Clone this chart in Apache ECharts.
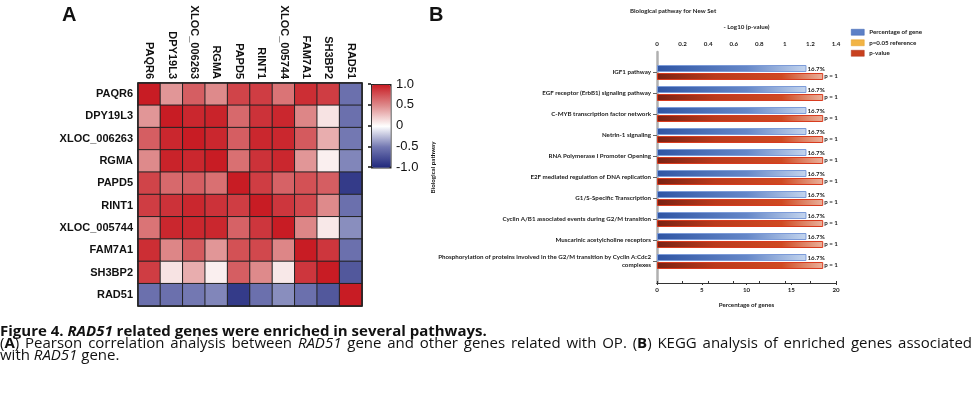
<!DOCTYPE html>
<html>
<head>
<meta charset="utf-8">
<script src="https://cdn.jsdelivr.net/npm/echarts@6/dist/echarts.min.js"></script>
<style>
  html, body { margin: 0; padding: 0; background: #fff; }
  #chart { width: 974px; height: 396px; }
</style>
</head>
<body>
<div id="chart"></div>
<script>
// 热图基因
const genes = ['PAQR6', 'DPY19L3', 'XLOC_006263', 'RGMA', 'PAPD5', 'RINT1', 'XLOC_005744', 'FAM7A1', 'SH3BP2', 'RAD51'];

// Pearson 相关矩阵 (从图中估计)
const corr = [
    [1.00, 0.45, 0.70, 0.50, 0.82, 0.85, 0.60, 0.92, 0.85, -0.55],
    [0.45, 1.00, 0.95, 0.97, 0.65, 0.90, 0.95, 0.52, 0.12, -0.55],
    [0.70, 0.95, 1.00, 0.95, 0.70, 0.95, 0.95, 0.72, 0.35, -0.50],
    [0.50, 0.97, 0.95, 1.00, 0.62, 0.90, 0.95, 0.45, 0.07, -0.45],
    [0.82, 0.65, 0.70, 0.62, 1.00, 0.85, 0.68, 0.76, 0.70, -0.88],
    [0.85, 0.90, 0.95, 0.90, 0.85, 1.00, 0.88, 0.80, 0.50, -0.55],
    [0.60, 0.95, 0.95, 0.95, 0.68, 0.88, 1.00, 0.52, 0.10, -0.42],
    [0.92, 0.52, 0.72, 0.45, 0.76, 0.80, 0.52, 1.00, 0.88, -0.55],
    [0.85, 0.12, 0.35, 0.07, 0.70, 0.50, 0.10, 0.88, 1.00, -0.70],
    [-0.55, -0.55, -0.50, -0.45, -0.88, -0.55, -0.42, -0.55, -0.70, 1.00]
];

// KEGG 通路
const pathways = [
    'IGF1 pathway',
    'EGF receptor (ErbB1) signaling pathway',
    'C-MYB transcription factor network',
    'Netrin-1 signaling',
    'RNA Polymerase I Promoter Opening',
    'E2F mediated regulation of DNA replication',
    'G1/S-Specific Transcription',
    'Cyclin A/B1 associated events during G2/M transition',
    'Muscarinic acetylcholine receptors',
    'Phosphorylation of proteins involved in the G2/M transition by Cyclin A:Cdc2\ncomplexes'
];
const pctGenes = [16.7, 16.7, 16.7, 16.7, 16.7, 16.7, 16.7, 16.7, 16.7, 16.7];
const negLogP = [1.3, 1.3, 1.3, 1.3, 1.3, 1.3, 1.3, 1.3, 1.3, 1.3];
const pLabels = ['p = 1', 'p = 1', 'p = 1', 'p = 1', 'p = 1', 'p = 1', 'p = 1', 'p = 1', 'p = 1', 'p = 1'];

// 图注第二行: [文字, 样式]，两端对齐到整行宽度
const captionLine2 = [
    ['(', 'n'], ['A', 'b'], [')', 'n'], [' Pearson correlation analysis between ', 'n'], ['RAD51', 'i'],
    [' gene and other genes related with OP. (', 'n'], ['B', 'b'], [') KEGG analysis of enriched genes associated', 'n']
];

const chart = echarts.init(document.getElementById('chart'));

const heatData = [];
corr.forEach((row, i) => row.forEach((v, j) => heatData.push([j, i, v])));

const smallFont = { fontSize: 6.2, fontWeight: 'bold', color: '#1a1a1a', fontFamily: 'Lato' };
const capFont = '"Open Sans", sans-serif';
const capSize = 15;

// 计算两端对齐时的空格宽度
const ctx = document.createElement('canvas').getContext('2d');
const fontOf = s => (s === 'b' ? 'bold ' : s === 'i' ? 'italic ' : '') + capSize + 'px ' + capFont;
let textW = 0, spaces = 0;
const tokens = [];
captionLine2.forEach(([t, s]) => {
    t.split(/( )/).forEach(part => {
        if (part === '') return;
        if (part === ' ') { spaces++; tokens.push('{sp| }'); return; }
        ctx.font = fontOf(s);
        textW += ctx.measureText(part).width;
        tokens.push('{' + s + '|' + part + '}');
    });
});
const spaceW = Math.max(3, (972 - textW) / spaces);

const capRich = {
    n: { fontSize: capSize, fontFamily: capFont, fill: '#111', lineHeight: 12 },
    b: { fontSize: capSize, fontWeight: 'bold', fontFamily: capFont, fill: '#111', lineHeight: 12 },
    i: { fontSize: capSize, fontStyle: 'italic', fontFamily: capFont, fill: '#111', lineHeight: 12 },
    bi: { fontSize: capSize, fontWeight: 'bold', fontStyle: 'italic', fontFamily: capFont, fill: '#111', lineHeight: 12 },
    sp: { fontSize: capSize, fontFamily: capFont, width: spaceW, lineHeight: 12 }
};

chart.setOption({
    backgroundColor: '#fff',
    animation: false,
    textStyle: { fontFamily: 'Liberation Sans, Arial, sans-serif' },
    grid: [
        { left: 138, top: 83, width: 224, height: 223, show: true, borderColor: '#222', borderWidth: 1.5, backgroundColor: 'transparent', z: 3 },
        { left: 371, top: 84, width: 19, height: 83 },
        { left: 657, top: 52, width: 179, height: 231 },
        { left: 657, top: 62, width: 179, height: 210 }
    ],
    xAxis: [
        {
            gridIndex: 0, type: 'category', data: genes, position: 'top',
            axisLine: { show: false }, axisTick: { show: false }, splitLine: { show: false },
            axisLabel: { rotate: 90, fontSize: 11, fontWeight: 'bold', color: '#111', margin: 4 }
        },
        { gridIndex: 1, type: 'value', show: false },
        {
            gridIndex: 2, type: 'value', position: 'top', min: 0, max: 1.4, interval: 0.2,
            name: '- Log10 (p-value)', nameLocation: 'middle', nameGap: 22, nameTextStyle: smallFont,
            axisLine: { lineStyle: { color: '#333', width: 1 } },
            axisTick: { length: 2, lineStyle: { color: '#333' } },
            splitLine: { show: false },
            axisLabel: Object.assign({ margin: 5, formatter: v => String(+v.toFixed(1)) }, smallFont)
        },
        {
            gridIndex: 2, type: 'value', position: 'bottom', min: 0, max: 20, interval: 5,
            name: 'Percentage of genes', nameLocation: 'middle', nameGap: 19, nameTextStyle: smallFont,
            axisLine: { lineStyle: { color: '#333', width: 1 } },
            axisTick: { length: 2, lineStyle: { color: '#333' } },
            splitLine: { show: false },
            axisLabel: Object.assign({ margin: 4 }, smallFont)
        },
        { gridIndex: 3, type: 'value', min: 0, max: 1.4, show: false },
        { gridIndex: 3, type: 'value', min: 0, max: 20, show: false }
    ],
    yAxis: [
        {
            gridIndex: 0, type: 'category', data: genes, inverse: true,
            axisLine: { show: false }, axisTick: { show: false }, splitLine: { show: false },
            axisLabel: { fontSize: 11, fontWeight: 'bold', color: '#111', margin: 5 }
        },
        {
            gridIndex: 1, type: 'value', position: 'right', min: -1, max: 1, interval: 0.5,
            axisLine: { show: false }, splitLine: { show: false },
            axisTick: { show: true, inside: true, length: 3, lineStyle: { color: '#111', width: 1.5 } },
            axisLabel: { fontSize: 13, color: '#111', margin: 6, formatter: v => v === 0 ? '0' : v.toFixed(1) }
        },
        {
            gridIndex: 2, type: 'value', min: 0, max: 1,
            name: 'Biological pathway', nameLocation: 'middle', nameGap: 221, nameTextStyle: smallFont,
            axisLine: { show: true, lineStyle: { color: '#b0b0b0', width: 2.5 } },
            axisTick: { show: false }, axisLabel: { show: false }, splitLine: { show: false }
        },
        {
            gridIndex: 3, type: 'category', data: pathways, inverse: true,
            axisLine: { show: false },
            axisTick: { show: true, alignWithLabel: true, length: 4, lineStyle: { color: '#666' } },
            axisLabel: Object.assign({ margin: 6, lineHeight: 8 }, smallFont)
        }
    ],
    visualMap: {
        type: 'continuous', min: -1, max: 1, seriesIndex: 0,
        left: 371, top: 84, itemWidth: 19, itemHeight: 83, padding: 0,
        calculable: false, hoverLink: false, text: null, showLabel: false,
        borderColor: '#222', borderWidth: 1.5,
        inRange: { color: ['#20287c', '#7378b2', '#ffffff', '#de8a8b', '#c81c24'] }
    },
    legend: {
        orient: 'vertical', left: 846, top: 24, itemWidth: 13, itemHeight: 6, itemGap: 4,
        icon: 'rect', textStyle: smallFont,
        data: [
            { name: 'Percentage of gene', itemStyle: { color: '#5d80c6', borderColor: '#3d62b0', borderWidth: 0.5 } },
            { name: 'p=0.05 reference', itemStyle: { color: '#f2b445', borderColor: '#e09a20', borderWidth: 0.5 } },
            { name: 'p-value', itemStyle: { color: '#c8401e', borderColor: '#a83018', borderWidth: 0.5 } }
        ]
    },
    series: [
        {
            type: 'heatmap', xAxisIndex: 0, yAxisIndex: 0, data: heatData,
            itemStyle: { borderColor: '#222', borderWidth: 1 },
            emphasis: { disabled: true }
        },
        {
            name: 'Percentage of gene', type: 'bar', xAxisIndex: 5, yAxisIndex: 3, data: pctGenes,
            barWidth: 7, barGap: '14%',
            itemStyle: {
                borderColor: '#7c9bd8', borderWidth: 1,
                color: new echarts.graphic.LinearGradient(0, 0, 1, 0, [
                    { offset: 0, color: '#2f55a4' },
                    { offset: 0.6, color: '#6587c8' },
                    { offset: 1, color: '#c4d5ee' }
                ])
            },
            label: Object.assign({ show: true, position: 'right', distance: 1, formatter: p => p.value + '%' }, smallFont)
        },
        {
            name: 'p-value', type: 'bar', xAxisIndex: 4, yAxisIndex: 3, data: negLogP,
            barWidth: 7,
            itemStyle: {
                borderColor: '#d83a1e', borderWidth: 1,
                color: new echarts.graphic.LinearGradient(0, 0, 1, 0, [
                    { offset: 0, color: '#7a2213' },
                    { offset: 0.35, color: '#b93a1c' },
                    { offset: 0.75, color: '#cf4a22' },
                    { offset: 1, color: '#eab29c' }
                ])
            },
            label: Object.assign({ show: true, position: 'right', distance: 1, formatter: p => pLabels[p.dataIndex] }, smallFont)
        },
        { name: 'p=0.05 reference', type: 'line', xAxisIndex: 4, yAxisIndex: 3, data: [] }
    ],
    graphic: [
        { type: 'text', left: 62, top: 5, style: { text: 'A', fontSize: 20, fontWeight: 'bold', fill: '#111', fontFamily: 'Liberation Sans' } },
        { type: 'text', left: 429, top: 5, style: { text: 'B', fontSize: 20, fontWeight: 'bold', fill: '#111', fontFamily: 'Liberation Sans' } },
        { type: 'text', left: 630, top: 8, style: { text: 'Biological pathway for New Set', fill: '#1a1a1a', fontSize: 6.2, fontWeight: 'bold', fontFamily: 'Lato' } },
        {
            type: 'text', left: 0, top: 324,
            style: { text: '{b|Figure 4. }{bi|RAD51}{b| related genes were enriched in several pathways.}', rich: capRich }
        },
        {
            type: 'text', left: 0, top: 336,
            style: { text: tokens.join(''), rich: capRich }
        },
        {
            type: 'text', left: 0, top: 348,
            style: { text: '{n|with }{i|RAD51}{n| gene.}', rich: capRich }
        }
    ]
});
</script>
</body>
</html>
